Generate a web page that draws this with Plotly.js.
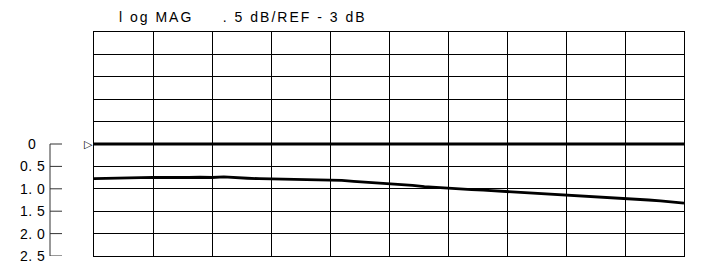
<!DOCTYPE html>
<html>
<head>
<meta charset="utf-8">
<script src="https://cdn.plot.ly/plotly-3.0.1.min.js"></script>
<style>html,body{margin:0;padding:0;background:#fff;}#chart{width:705px;height:265px;}</style>
</head>
<body>
<div id="chart"></div>
<script>
// ---- data ----
const titleText = 'l og MAG&nbsp;&nbsp;&nbsp;&nbsp;&nbsp;. 5 dB/REF - 3 dB';
const freqX = [0,2,4,6,8,10,12,14,16,18,20,22,24,26,28,30,32,34,36,38,40,42,44,46,48,50,
  52,54,56,58,60,62,64,66,68,70,72,74,76,78,80,82,84,86,88,90,92,94,96,98,100];
const magVals = [0.775,0.765,0.76,0.755,0.75,0.748,0.752,0.745,0.748,0.742,0.748,0.735,0.755,0.765,0.775,0.78,0.79,0.795,0.805,0.81,0.82,0.812,0.835,0.85,0.87,0.89,
  0.905,0.925,0.95,0.97,0.99,1.005,1.02,1.03,1.045,1.06,1.07,1.09,1.105,1.125,1.145,1.16,1.175,1.19,1.20,1.215,1.23,1.25,1.27,1.29,1.32];
const refX = [0, 100];
const refVals = [0, 0];
const refMarkerSymbol = '▷';
const refMarkerY = 0;
const scaleTickVals = [0, 0.5, 1.0, 1.5, 2.0, 2.5];
const scaleTickLabels = ['0', '0. 5', '1. 0', '1. 5', '2. 0', '2. 5'];

// ---- layout helpers ----
const W = 705, H = 265;
const mL = 94, mR = 21, mT = 32, mB = 9;
const plotW = W - mL - mR;
const px2paper = p => (p - mL) / plotW;
const font = 'Liberation Sans, Arial, sans-serif';

const traces = [
  {x: refX, y: refVals, mode: 'lines', line: {color: '#000', width: 3}, hoverinfo: 'skip'},
  {x: freqX, y: magVals, mode: 'lines', line: {color: '#000', width: 2.8}, hoverinfo: 'skip'}
];

const shapes = [];
shapes.push({type: 'line', xref: 'paper', yref: 'y', x0: px2paper(50), x1: px2paper(50),
  y0: scaleTickVals[0], y1: scaleTickVals[scaleTickVals.length - 1], line: {color: '#333', width: 1}});
scaleTickVals.forEach(v => shapes.push({type: 'line', xref: 'paper', yref: 'y',
  x0: px2paper(50), x1: px2paper(62), y0: v, y1: v, line: {color: '#333', width: 1}}));

const annotations = scaleTickLabels.map((t, i) => ({
  text: '<span style="letter-spacing:0.5px">' + t + '</span>', xref: 'paper', yref: 'y', x: px2paper(32), y: scaleTickVals[i],
  xanchor: 'center', yanchor: 'middle', showarrow: false,
  font: {family: font, size: 14, color: '#000'}
}));
annotations.push({
  text: refMarkerSymbol, xref: 'paper', yref: 'y', x: px2paper(88.5), y: refMarkerY,
  xanchor: 'center', yanchor: 'middle', showarrow: false,
  font: {family: 'DejaVu Sans, sans-serif', size: 11, color: '#000'}
});
annotations.push({
  text: '<span style="letter-spacing:2px">' + titleText + '</span>',
  xref: 'paper', yref: 'paper', x: px2paper(117), y: 1, yshift: 5,
  xanchor: 'left', yanchor: 'bottom', showarrow: false,
  font: {family: font, size: 14, color: '#000'}
});

const layout = {
  width: W, height: H,
  margin: {l: mL, r: mR, t: mT, b: mB, pad: 0},
  paper_bgcolor: '#fff', plot_bgcolor: '#fff',
  showlegend: false,
  xaxis: {range: [0, 100], dtick: 10, tick0: 0, showgrid: true, gridcolor: '#000', gridwidth: 1,
    zeroline: false, showticklabels: false, ticks: '', showline: true, mirror: true, linecolor: '#000', linewidth: 1},
  yaxis: {range: [2.5, -2.5], dtick: 0.5, tick0: 0, showgrid: true, gridcolor: '#000', gridwidth: 1,
    zeroline: false, showticklabels: false, ticks: '', showline: true, mirror: true, linecolor: '#000', linewidth: 1},
  shapes: shapes,
  annotations: annotations
};

Plotly.newPlot('chart', traces, layout, {staticPlot: true, displayModeBar: false});
</script>
</body>
</html>
